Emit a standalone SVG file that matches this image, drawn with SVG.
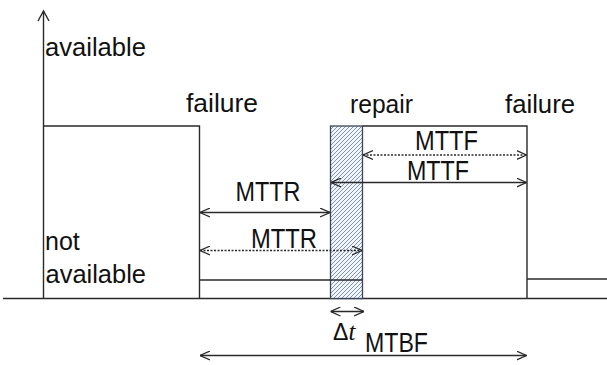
<svg xmlns="http://www.w3.org/2000/svg" width="607" height="365" viewBox="0 0 607 365">
<style>
.ln{stroke:#2a2a2a;stroke-width:1.4;fill:none}
.ar{stroke:#2a2a2a;stroke-width:1.3;fill:none;marker-start:url(#ah);marker-end:url(#ah)}
.dash{stroke-dasharray:2 1.5}
.t{font-family:"Liberation Sans","Noto Sans",Arial,sans-serif;fill:#111111}
.s{font-size:25px}
.m{font-size:28px}
</style>
<defs>
<marker id="ah" viewBox="0 0 10 10" refX="10" refY="5" markerWidth="10" markerHeight="10" markerUnits="userSpaceOnUse" orient="auto-start-reverse">
<path d="M0,0.5 L10,5 L0,9.5" fill="none" stroke="#2a2a2a" stroke-width="1.2"/>
</marker>
<pattern id="hatch" patternUnits="userSpaceOnUse" width="4" height="4">
<rect width="4" height="4" fill="#f2f5fa"/>
<path d="M-1,1 L1,-1 M0,4 L4,0 M3,5 L5,3" stroke="#7388ad" stroke-width="0.9"/>
</pattern>
</defs>
<rect width="607" height="365" fill="#ffffff"/>

<g id="axes">
<line class="ln" x1="43.5" y1="11" x2="43.5" y2="298.5"/>
<path class="ln" d="M38,21 L43.5,11 L49,21" stroke-width="1.2"/>
<line class="ln" x1="3" y1="298.5" x2="607" y2="298.5" stroke-width="1.5"/>
</g>

<g id="waveform">
<polyline class="ln" points="43.5,126 199.5,126 199.5,298.5"/>
<line class="ln" x1="199.5" y1="280" x2="362.5" y2="280"/>
<polyline class="ln" points="362.5,126 527,126 527,298.5"/>
<line class="ln" x1="527" y1="279" x2="607" y2="279"/>
</g>

<g id="repair-block">
<rect x="330.5" y="126" width="32" height="172.5" fill="url(#hatch)" stroke="#3a465c" stroke-width="1.3"/>
<line class="ln" x1="330.5" y1="280" x2="362.5" y2="280"/>
</g>

<g id="connectors">
<line class="ar" x1="200" y1="212.5" x2="330" y2="212.5"/>
<line class="ar dash" x1="200" y1="250.5" x2="362" y2="250.5"/>
<line class="ar dash" x1="363" y1="155" x2="526.5" y2="155"/>
<line class="ar" x1="331" y1="182.5" x2="526.5" y2="182.5"/>
<line class="ar" x1="330.5" y1="311.5" x2="364" y2="311.5"/>
<line class="ar" x1="200" y1="355.5" x2="526.5" y2="355.5"/>
</g>

<g id="labels">
<text class="t s" x="45" y="56" textLength="101" lengthAdjust="spacingAndGlyphs">available</text>
<text class="t s" x="45" y="250">not</text>
<text class="t s" x="45.5" y="283" textLength="100.5" lengthAdjust="spacingAndGlyphs">available</text>
<text class="t s" x="186" y="112" textLength="72" lengthAdjust="spacingAndGlyphs">failure</text>
<text class="t s" x="350" y="113" textLength="63" lengthAdjust="spacingAndGlyphs">repair</text>
<text class="t s" x="505" y="113" textLength="70" lengthAdjust="spacingAndGlyphs">failure</text>
<text class="t m" x="415" y="150" textLength="63" lengthAdjust="spacingAndGlyphs">MTTF</text>
<text class="t m" x="407" y="179.5" textLength="62" lengthAdjust="spacingAndGlyphs">MTTF</text>
<text class="t m" x="235.5" y="200.5" textLength="65" lengthAdjust="spacingAndGlyphs">MTTR</text>
<text class="t m" x="251" y="248" textLength="66" lengthAdjust="spacingAndGlyphs">MTTR</text>
<text class="t m" x="365" y="352" textLength="63" lengthAdjust="spacingAndGlyphs">MTBF</text>
<text class="t" x="333" y="340" font-size="23">Δ<tspan font-family="Liberation Serif,serif" font-style="italic" font-size="25">t</tspan></text>
</g>
</svg>
